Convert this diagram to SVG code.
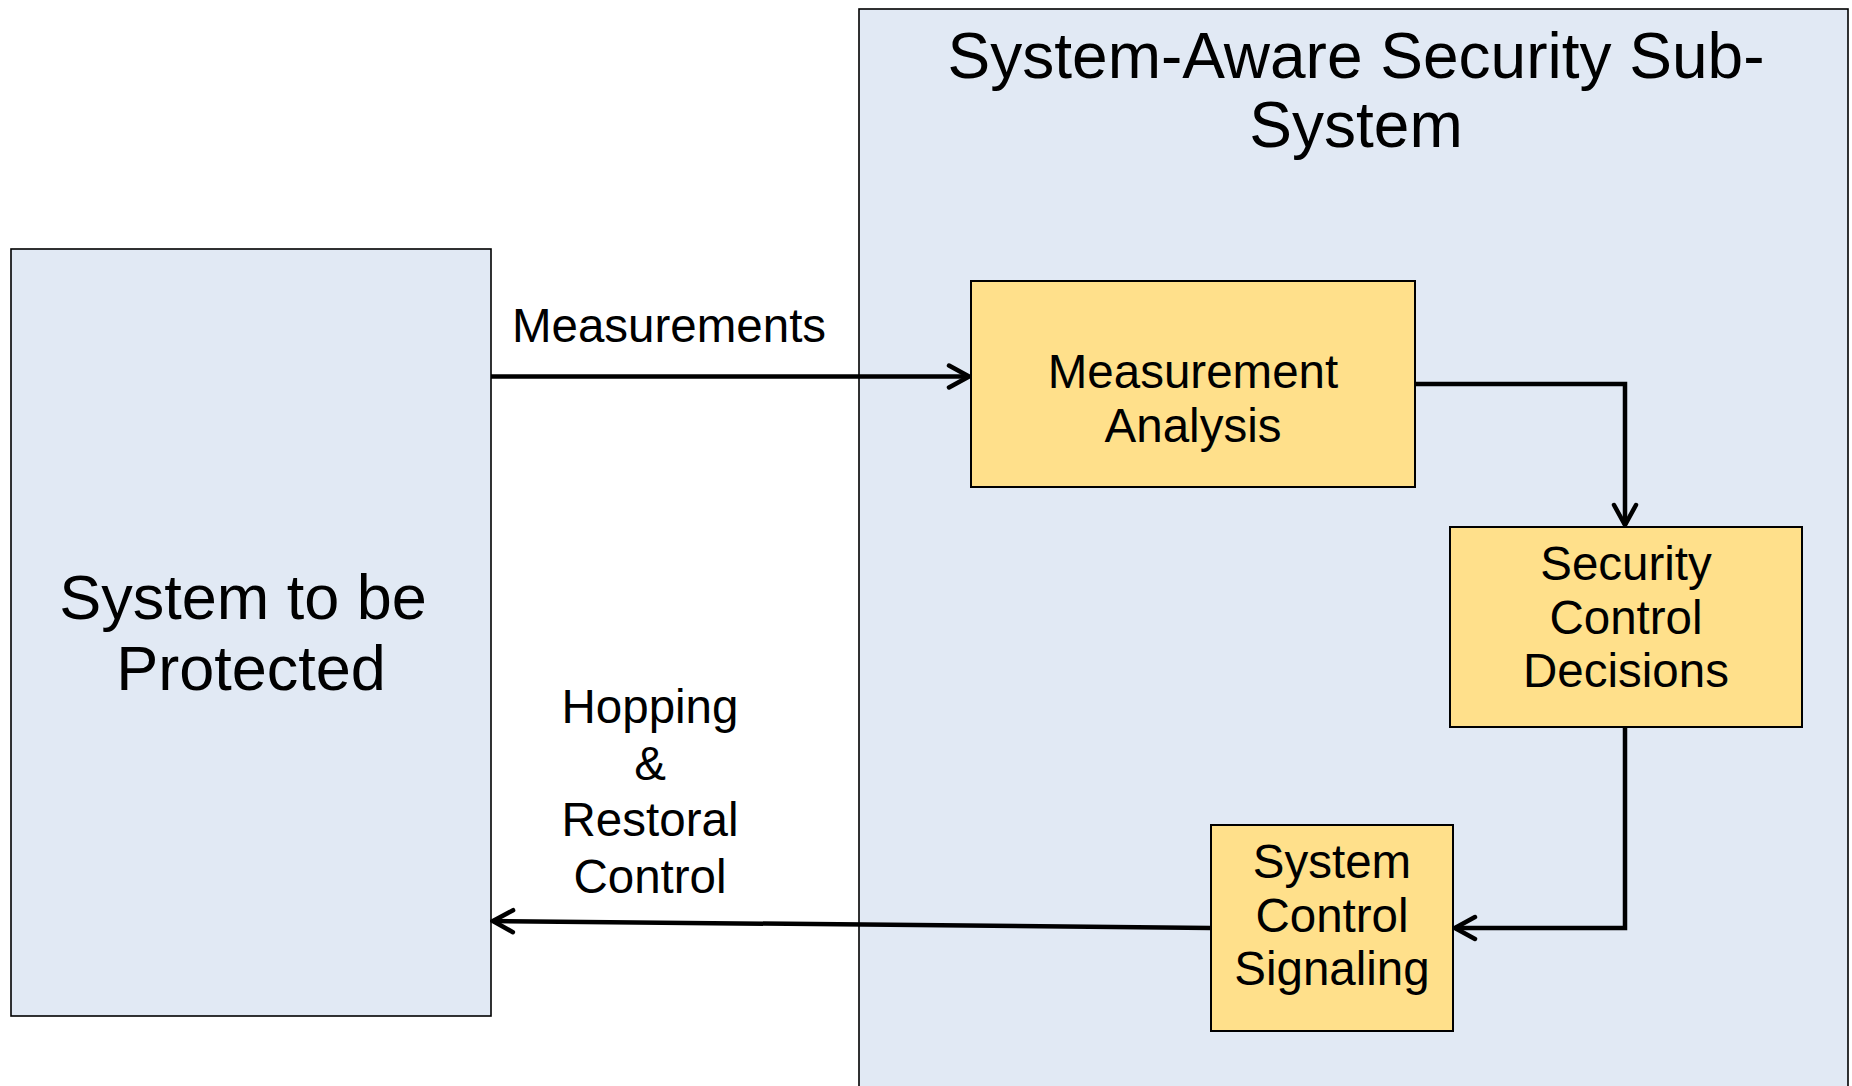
<svg xmlns="http://www.w3.org/2000/svg" width="1852" height="1086" viewBox="0 0 1852 1086">
  <style>
    .lbl { font-family: "Liberation Sans", Arial, sans-serif; fill: #000; text-anchor: middle; }
    .blue { fill: #E1E9F4; stroke: #000; stroke-width: 1.6; }
    .gold { fill: #FFE08B; stroke: #000; stroke-width: 2; }
    .wire { fill: none; stroke: #000; stroke-width: 4.5; }
  </style>
  <defs>
    <marker id="vhead" viewBox="0 0 26 28" refX="23" refY="14" markerWidth="26" markerHeight="28" markerUnits="userSpaceOnUse" orient="auto">
      <path d="M3,3 L23,14 L3,25" fill="none" stroke="#000" stroke-width="4.5" stroke-linecap="round" stroke-linejoin="miter"/>
    </marker>
  </defs>
  <rect width="1852" height="1086" fill="#fff"/>

  <!-- security sub-system container -->
  <g id="subsystem">
    <rect class="blue" x="859" y="9" width="989" height="1090"/>
    <text class="lbl" font-size="64" x="1356" y="78">System-Aware Security Sub-</text>
    <text class="lbl" font-size="64" x="1356" y="146.5">System</text>
  </g>

  <!-- protected system -->
  <g id="protected">
    <rect class="blue" x="11" y="249" width="480" height="767"/>
    <text class="lbl" font-size="63" x="243" y="618.5">System to be</text>
    <text class="lbl" font-size="63" x="251" y="690">Protected</text>
  </g>

  <g id="measurement-analysis">
    <rect class="gold" x="971" y="281" width="444" height="206"/>
    <text class="lbl" font-size="47.5" x="1193" y="388">Measurement</text>
    <text class="lbl" font-size="47.5" x="1193" y="441.5">Analysis</text>
  </g>

  <g id="security-decisions">
    <rect class="gold" x="1450" y="527" width="352" height="200"/>
    <text class="lbl" font-size="47.5" x="1626" y="580">Security</text>
    <text class="lbl" font-size="47.5" x="1626" y="633.5">Control</text>
    <text class="lbl" font-size="47.5" x="1626" y="687">Decisions</text>
  </g>

  <g id="control-signaling">
    <rect class="gold" x="1211" y="825" width="242" height="206"/>
    <text class="lbl" font-size="47.5" x="1332" y="878">System</text>
    <text class="lbl" font-size="47.5" x="1332" y="931.5">Control</text>
    <text class="lbl" font-size="47.5" x="1332" y="985">Signaling</text>
  </g>

  <!-- connectors -->
  <g id="connectors">
    <line class="wire" x1="491" y1="376.5" x2="969" y2="376.5" marker-end="url(#vhead)"/>
    <polyline class="wire" points="1415,384 1625,384 1625,525" marker-end="url(#vhead)"/>
    <polyline class="wire" points="1625,727 1625,928 1455,928" marker-end="url(#vhead)"/>
    <line class="wire" x1="1211" y1="928" x2="493" y2="921" marker-end="url(#vhead)"/>
  </g>

  <!-- connector labels -->
  <g id="labels">
    <text class="lbl" font-size="47.5" x="669" y="342">Measurements</text>
    <text class="lbl" font-size="47.5" x="650" y="723">Hopping</text>
    <text class="lbl" font-size="47.5" x="650" y="779.5">&amp;</text>
    <text class="lbl" font-size="47.5" x="650" y="836">Restoral</text>
    <text class="lbl" font-size="47.5" x="650" y="892.5">Control</text>
  </g>
</svg>
